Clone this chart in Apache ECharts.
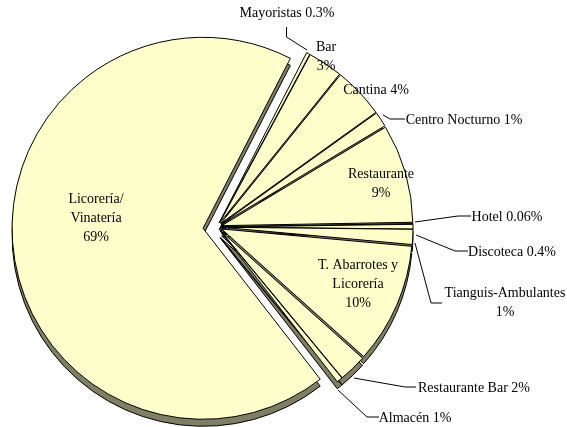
<!DOCTYPE html>
<html><head><meta charset="utf-8">
<style>html,body{margin:0;padding:0;background:#fff}#c{width:567px;height:427px}</style>
<script src="https://cdn.jsdelivr.net/npm/echarts@6/dist/echarts.min.js"></script>
</head><body><div id="c"></div>
<script>
const categories = ['Mayoristas','Bar','Cantina','Centro Nocturno','Restaurante','Hotel','Discoteca','Tianguis-Ambulantes','T. Abarrotes y Licorería','Restaurante Bar','Almacén','Licorería/ Vinatería'];
const values = [0.3, 3, 4.4, 1.3, 8.5, 0.06, 0.4, 1.3, 10.4, 2.4, 0.5, 69.4];
const labelTexts = ['Mayoristas 0.3%','Bar\n3%','Cantina 4%','Centro Nocturno 1%','Restaurante\n9%','Hotel 0.06%','Discoteca 0.4%','Tianguis-Ambulantes\n1%','T. Abarrotes y\nLicorería\n10%','Restaurante Bar 2%','Almacén 1%','Licorería/\nVinatería\n69%'];
const labelAt = [[287,13],[326,57],[376,90],[464,120],[381,184],[507,217],[512,252],[505,303],[358,284],[474,388],[415,418],[96,218]];
const leaders = [
 [[286.5,27],[286.5,37],[307,50]], null, null,
 [[405,119],[390,119],[383,115]], null,
 [[471,216],[458,216],[415,222]],
 [[468,251],[455,251],[416,235]],
 [[442,303],[431,303],[415,243]], null,
 [[416,387],[405,387],[354,378]],
 [[379,417],[367,417],[338,390]], null];
const FACE='#FFFFCC', WALL='#7F7F66', EDGE='#000';
const centre=[217,227], R=191, DEPTH=7, START=62.8;
const chart=echarts.init(document.getElementById('c'),null,{renderer:'canvas'});
function layer(isTop,cy,off,only){
  const col=isTop?FACE:WALL;
  return {
    type:'pie', radius:[0,R], center:[centre[0],cy], startAngle:START, clockwise:true,
    animation:false, silent:true, selectedMode:'multiple', selectedOffset:off, avoidLabelOverlap:false,
    z:isTop?(only?4:3):(only?2:1),
    itemStyle:{color:col,borderColor:EDGE,borderWidth:1},
    select:{itemStyle:{color:col,borderColor:EDGE,borderWidth:1}},
    emphasis:{disabled:true},
    label:{show:false}, labelLine:{show:false},
    data:categories.map((n,i)=>{
      const mine=(i===11)===only;
      const hide={color:'transparent',borderColor:'transparent'};
      return {name:n,value:values[i],selected:true,
        itemStyle:mine?{}:hide, select:mine?{}:{itemStyle:hide}};
    })
  };
}
const labelSeries={
  type:'pie', radius:[0,R], center:centre, startAngle:START, clockwise:true,
  animation:false, silent:true, avoidLabelOverlap:false, z:5,
  itemStyle:{color:'transparent',borderWidth:0},
  emphasis:{disabled:true},
  label:{show:true,position:'outside',fontFamily:'Liberation Serif',fontSize:14,lineHeight:19,color:'#000'},
  labelLine:{show:true,lineStyle:{color:'#000',width:1}},
  data:categories.map((n,i)=>({name:n,value:values[i],label:{formatter:labelTexts[i]},labelLine:{show:!!leaders[i]}})),
  labelLayout:function(p){
    const a=labelAt[p.dataIndex];
    const o={x:a[0],y:a[1],align:'center',verticalAlign:'middle'};
    if(leaders[p.dataIndex]) o.labelLinePoints=leaders[p.dataIndex];
    return o;
  }
};
chart.setOption({backgroundColor:'#fff',series:[
  layer(false,centre[1]+DEPTH,14,true),
  layer(false,centre[1]+DEPTH,5,false),
  layer(true,centre[1],14,true),
  layer(true,centre[1],5,false),
  labelSeries
]});
</script></body></html>
